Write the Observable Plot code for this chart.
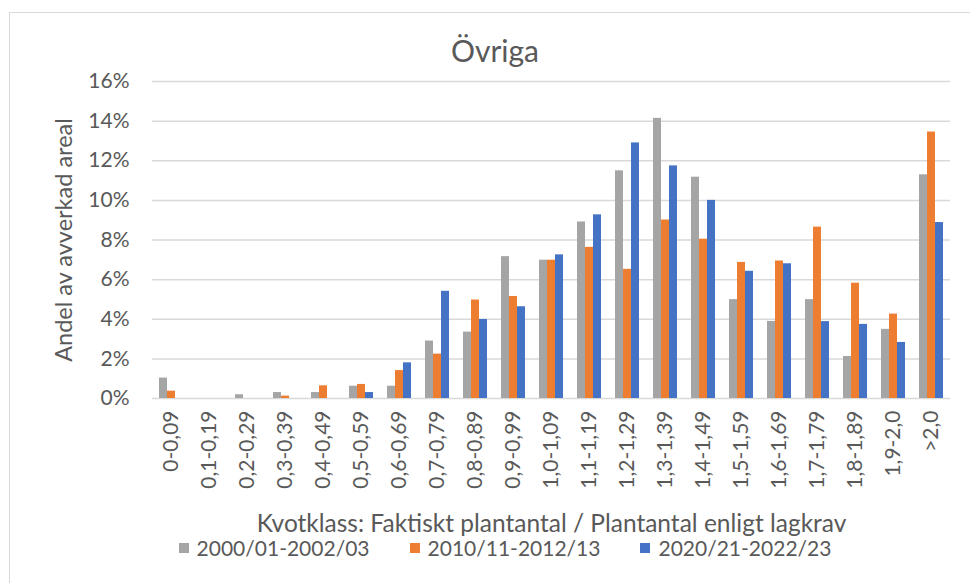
<!DOCTYPE html>
<html>
<head>
<meta charset="utf-8">
<script src="https://cdn.jsdelivr.net/npm/d3@7"></script>
<script src="https://cdn.jsdelivr.net/npm/@observablehq/plot@0.6"></script>
<style>
  html, body { margin: 0; padding: 0; background: #fff; overflow: hidden; }
  body { width: 970px; height: 583px; position: relative; font-family: Lato, "Open Sans", sans-serif; color: #595959; }
  #frame { position: absolute; left: 9px; top: 12px; width: 980px; height: 600px; border: 1.5px solid #d9d9d9; box-sizing: border-box; }
  #title { position: absolute; left: 0; width: 990px; top: 32px; text-align: center; font-size: 30px; color: #595959; }
  #chart { position: absolute; left: 0; top: 60px; }
  #legend { position: absolute; left: 10px; width: 990px; top: 535px; display: flex; justify-content: center; gap: 40px; font-size: 21px; color: #595959; }
  .item { display: flex; align-items: center; gap: 8px; }
  .sw { width: 10px; height: 10px; display: inline-block; }
</style>
</head>
<body>
<div id="frame"></div>
<div id="title">Övriga</div>
<div id="chart"></div>
<div id="legend"></div>
<script>
const categories = ["0-0,09","0,1-0,19","0,2-0,29","0,3-0,39","0,4-0,49","0,5-0,59","0,6-0,69","0,7-0,79","0,8-0,89","0,9-0,99","1,0-1,09","1,1-1,19","1,2-1,29","1,3-1,39","1,4-1,49","1,5-1,59","1,6-1,69","1,7-1,79","1,8-1,89","1,9-2,0",">2,0"];
const seriesNames = ["2000/01-2002/03", "2010/11-2012/13", "2020/21-2022/23"];
const seriesColors = ["#a5a5a5", "#ed7d31", "#4472c4"];
const s2000 = [1.03, 0, 0.19, 0.30, 0.30, 0.62, 0.62, 2.90, 3.35, 7.16, 6.98, 8.91, 11.49, 14.14, 11.17, 4.99, 3.89, 4.99, 2.12, 3.49, 11.29];
const s2010 = [0.37, 0, 0, 0.12, 0.64, 0.71, 1.41, 2.24, 4.97, 5.15, 6.98, 7.63, 6.52, 9.01, 8.04, 6.87, 6.94, 8.65, 5.82, 4.26, 13.45];
const s2020 = [0, 0, 0, 0, 0, 0.30, 1.80, 5.41, 3.99, 4.63, 7.25, 9.27, 12.90, 11.74, 10.00, 6.42, 6.80, 3.88, 3.74, 2.83, 8.88];
const yTicks = [0, 2, 4, 6, 8, 10, 12, 14, 16];
const yLabel = "Andel av avverkad areal";
const xLabel = "Kvotklass: Faktiskt plantantal / Plantantal enligt lagkrav";

const allSeries = [s2000, s2010, s2020];
const data = [];
categories.forEach((c, i) => {
  allSeries.forEach((s, j) => {
    data.push({cat: c, series: seriesNames[j], value: s[i]});
  });
});

const chart = Plot.plot({
  width: 970,
  height: 478,
  marginLeft: 149,
  marginRight: 17,
  marginTop: 21,
  marginBottom: 140,
  style: {fontFamily: "Lato, 'Open Sans', sans-serif", color: "#595959", background: "transparent"},
  fx: {domain: categories, padding: 0, axis: null},
  x: {domain: seriesNames, paddingInner: 0.06, paddingOuter: 0.9, axis: null},
  y: {domain: [0, 16], axis: null},
  color: {domain: seriesNames, range: seriesColors},
  marks: [
    Plot.gridY(yTicks, {stroke: "#d9d9d9", strokeOpacity: 1, strokeWidth: 1.5}),
    Plot.barY(data, {fx: "cat", x: "series", y: "value", fill: "series"}),
    Plot.axisY(yTicks, {
      anchor: "left",
      tickSize: 0, tickPadding: 23, tickFormat: d => d + "%",
      fontSize: 21, fill: "#595959",
      label: yLabel, labelAnchor: "center", labelOffset: 97
    }),
    Plot.axisFx({
      anchor: "bottom",
      tickSize: 0, tickPadding: 12, tickRotate: -90, fontSize: 21, fill: "#595959",
      label: xLabel, labelAnchor: "center", labelOffset: 133
    })
  ]
});
chart.querySelectorAll("[aria-label='y-axis label'] text").forEach(t => { t.textContent = yLabel; t.setAttribute("font-size", 23.5); });
chart.querySelectorAll("[aria-label='fx-axis label'] text").forEach(t => { t.textContent = xLabel; t.setAttribute("font-size", 24.5); });
document.getElementById("chart").appendChild(chart);

const legend = document.getElementById("legend");
seriesNames.forEach((n, j) => {
  const it = document.createElement("div");
  it.className = "item";
  const sw = document.createElement("span");
  sw.className = "sw";
  sw.style.background = seriesColors[j];
  const tx = document.createElement("span");
  tx.textContent = n;
  it.appendChild(sw); it.appendChild(tx);
  legend.appendChild(it);
});
</script>
</body>
</html>
